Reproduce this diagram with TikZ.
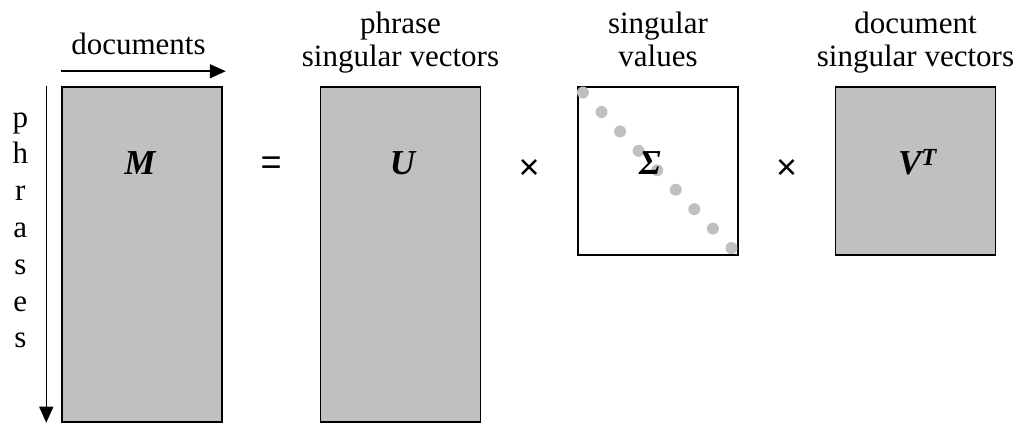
\documentclass[tikz,border=0pt]{standalone}
\usepackage{fontspec}
\setmainfont{Liberation Serif}
\newfontfamily\opsans{Liberation Sans}
\usepackage{xcolor}
\usetikzlibrary{arrows.meta,positioning,calc}
\definecolor{svdgray}{HTML}{C0C0C0}

\begin{document}
\begin{tikzpicture}[
 x=1pt,y=1pt,>={Triangle[length=16pt,width=14pt]},
 font=\fontsize{31}{33}\selectfont,
 mat/.style={draw,line width=1.5pt,fill=svdgray,minimum width=160pt,inner sep=0pt},
 head/.style={align=center,inner sep=0pt,text depth=7pt},
 letters/.style={align=center,inner sep=0pt,font=\fontsize{31}{36.8}\selectfont},
 sym/.style={font=\fontsize{35}{36}\selectfont\bfseries\itshape,inner sep=0pt,anchor=base},
 op/.style={font=\opsans\fontsize{36}{36}\selectfont,inner sep=0pt},
 axis/.style={->,line width=1.5pt}
]
\useasboundingbox (0,0) rectangle (1017,425);
% the four matrices
\node[mat,minimum height=335pt] (M) at (142,170.5) {};
\node[mat,minimum height=335pt,right=97pt of M] (U) {};
\node[mat,fill=white,minimum height=168pt,below right=0pt and 96pt of U.north east] (S) {};
\node[mat,minimum height=168pt,below right=0pt and 96pt of S.north east] (V) {};
% diagonal of Sigma
\coordinate (dfirst) at ($(S.north west)+(5.7,-6.3)$);
\coordinate (dlast) at ($(S.south east)+(-7.3,7.7)$);
\foreach \i in {0,...,8}
  \fill[svdgray] ($(dfirst)!\i/8!(dlast)$) circle (6pt);
% matrix names
\node[sym] (Mlab) at ($(M.north)+(-2,-88)$) {M};
\node[sym] (Ulab) at ($(U.north)+(2,-88)$) {U};
\node[sym] (Slab) at ($(S.north)+(-8,-88)$) {Σ};
\node[sym] (Vlab) at ($(V.north)+(2,-88)$) {V\textsuperscript{T}};
% operators
\node[op] (eq) at ($(M.north east)!0.5!(U.north west)+(0,-79)$) {=};
\node[op] (times1) at ($(U.north east)!0.5!(S.north west)+(0,-83)$) {×};
\node[op] (times2) at ($(S.north east)!0.5!(V.north west)+(0,-83)$) {×};
% headings
\node[head,above=13pt of U] (Uhead) {phrase\\singular vectors};
\node[head,above=13pt of S] (Shead) {singular\\values};
\node[head,above=13pt of V] (Vhead) {document\\singular vectors};
% axes of M
\coordinate (docstart) at ($(M.north west)+(0,15)$);
\coordinate (docend) at ($(M.north east)+(3,15)$);
\draw[axis] (docstart) -- (docend);
\node[inner sep=0pt,anchor=base] (docs) at ($(docstart)!0.5!(docend)+(-5,17)$) {documents};
\coordinate (phrstart) at ($(M.north west)+(-15,0)$);
\coordinate (phrend) at ($(M.south west)+(-15,0)$);
\draw[axis] (phrstart) -- (phrend);
\node[letters,below left=26pt and 33pt of M.north west] (phr) {p\\h\\r\\a\\s\\e\\s};
\end{tikzpicture}
\end{document}
